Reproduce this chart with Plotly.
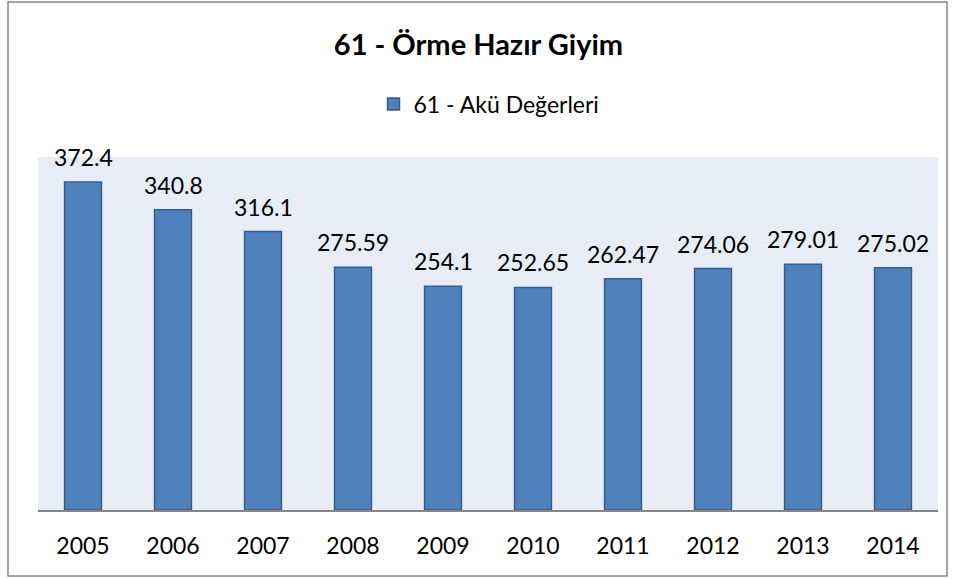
import plotly.graph_objects as go

years = ["2005", "2006", "2007", "2008", "2009", "2010", "2011", "2012", "2013", "2014"]
values = [372.4, 340.8, 316.1, 275.59, 254.1, 252.65, 262.47, 274.06, 279.01, 275.02]
labels = ["372.4", "340.8", "316.1", "275.59", "254.1", "252.65", "262.47", "274.06", "279.01", "275.02"]
series_name = "61 - Akü Değerleri"
title = "61 - Örme Hazır Giyim"

FONT = "Lato, Open Sans, sans-serif"

fig = go.Figure()
fig.add_trace(go.Bar(
    x=years, y=values, name=series_name,
    marker=dict(color="#4F81BD", line=dict(color="#385D8A", width=1.5)),
    showlegend=True,
))

for i, (v, t) in enumerate(zip(values, labels)):
    fig.add_annotation(x=i, y=v, text=t, showarrow=False, yanchor="bottom",
                       yshift=9, font=dict(family=FONT, size=23, color="#000000"))

W, H = 957, 579
l, r, t, b = 38, 19, 157, 69
pw, ph = W - l - r, H - t - b

def px(xp):
    return (xp - l) / pw

def py(yp):
    return (H - b - yp) / ph

fig.add_shape(type="rect", xref="paper", yref="paper",
              x0=px(8), x1=px(947), y0=py(576), y1=py(2),
              line=dict(color="#868686", width=1.5), fillcolor="rgba(0,0,0,0)", layer="below")

fig.update_layout(
    width=W, height=H,
    margin=dict(l=l, r=r, t=t, b=b),
    paper_bgcolor="white",
    plot_bgcolor="#E8ECF4",
    bargap=0.59,
    title=dict(text="<b>" + title + "</b>", x=0.5, xanchor="center", y=1 - 45 / H, yanchor="middle",
               font=dict(family=FONT, size=29, color="#000000")),
    legend=dict(orientation="h", x=px(489), xanchor="center", y=py(104), yanchor="middle",
                font=dict(family=FONT, size=23, color="#000000"), bgcolor="rgba(0,0,0,0)",
                itemwidth=30),
    font=dict(family=FONT),
)
fig.update_yaxes(range=[0, 400.7], visible=False, showgrid=False)
fig.update_xaxes(type="category", range=[-0.5, len(years) - 0.5], showgrid=False,
                 showline=True, linecolor="#868686", linewidth=1.5,
                 ticks="", tickfont=dict(family=FONT, size=23, color="#000000"),
                 ticklabelstandoff=15)

fig.write_html("out.html", config={"displayModeBar": False},
               post_script="document.body.style.margin='0';")
